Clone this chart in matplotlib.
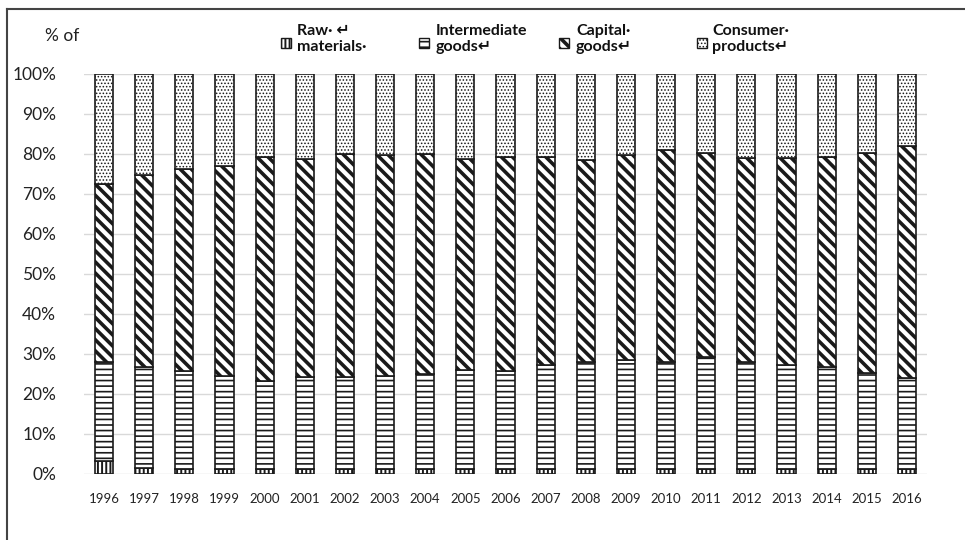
import numpy as np
import matplotlib.pyplot as plt
from matplotlib.patches import Rectangle
from matplotlib.lines import Line2D

plt.rcParams['font.family'] = ['Lato', 'DejaVu Sans']
plt.rcParams['hatch.linewidth'] = 1.2

years = [str(y) for y in range(1996, 2017)]

# cumulative shares (% of total)
raw = [3.2, 1.6, 1.3, 1.3, 1.2, 1.3, 1.3, 1.3, 1.2, 1.2, 1.2, 1.2, 1.2, 1.2, 1.2, 1.2, 1.2, 1.2, 1.2, 1.2, 1.2]
raw_inter = [28.1, 26.7, 25.8, 24.5, 23.2, 24.2, 24.2, 24.5, 25.1, 25.9, 25.8, 27.2, 28.1, 28.5, 28.1, 29.3, 28.1, 27.2, 26.7, 25.3, 24.1]
raw_inter_cap = [72.5, 74.8, 76.2, 77.1, 79.3, 78.7, 79.9, 79.7, 79.9, 78.7, 79.3, 79.3, 78.5, 79.8, 81.0, 80.3, 78.9, 78.9, 79.3, 80.2, 81.9]

raw = np.array(raw)
inter = np.array(raw_inter) - raw
capital = np.array(raw_inter_cap) - np.array(raw_inter)
consumer = 100 - np.array(raw_inter_cap)

series = [raw, inter, capital, consumer]
hatches = ['||||', '---', '\\\\\\', '.....']
hatch_lw = [1.4, 1.2, 2.6, 0.7]
labels = ['Raw\u00b7 \u21b5\nmaterials\u00b7', 'Intermediate\ngoods\u21b5',
          'Capital\u00b7\ngoods\u21b5', 'Consumer\u00b7\nproducts\u21b5']


def set_hlw(p, lw):
    try:
        p.set_hatch_linewidth(lw)
    except AttributeError:
        pass


fig = plt.figure(figsize=(9.65, 5.4), dpi=100)
ax = fig.add_axes([84 / 965, 1 - 474 / 540, (927 - 84) / 965, 400 / 540])

x = np.arange(len(years))
bottom = np.zeros(len(years))
for vals, h, lw in zip(series, hatches, hatch_lw):
    bars = ax.bar(x, vals, 0.45, bottom=bottom, color='white', edgecolor='#1a1a1a',
                  linewidth=1.2, hatch=h, zorder=3)
    for b in bars:
        set_hlw(b, lw)
    bottom = bottom + vals

ax.set_xlim(-0.5, len(years) - 0.5)
ax.set_ylim(0, 100)
ax.set_yticks(np.arange(0, 101, 10))
ax.set_yticklabels([f'{v}%' for v in range(0, 101, 10)], fontsize=12.5, color='#222222')
ax.set_xticks(x)
ax.set_xticklabels(years, fontsize=9.5, color='#222222')
ax.tick_params(length=0, axis='y', pad=20)
ax.tick_params(length=0, axis='x', pad=14)
ax.grid(axis='y', color='#d9d9d9', linewidth=1, zorder=0)
for s in ax.spines.values():
    s.set_visible(False)

fig.text(45 / 965, 1 - 36 / 540, '% of', fontsize=12.5, color='#222222', va='center')

# legend drawn by hand along the top
patch_x = [281, 419, 559, 697]
text_x = [297, 436, 576, 712]
for px, tx, h, lw, lab in zip(patch_x, text_x, hatches, hatch_lw, labels):
    r = Rectangle((px / 965, 1 - 48 / 540), 10 / 965, 10 / 540,
                  transform=fig.transFigure, facecolor='white',
                  edgecolor='#1a1a1a', linewidth=1, hatch=h)
    set_hlw(r, lw)
    fig.add_artist(r)
    fig.text(tx / 965, 1 - 39 / 540, lab, fontsize=11.5, fontweight='bold',
             va='center', ha='left', linespacing=1.15, color='#111111')

# outer frame
fig.add_artist(Line2D([7 / 965, 7 / 965], [0, 1 - 9 / 540], transform=fig.transFigure,
                      color='#444444', linewidth=1.5))
fig.add_artist(Line2D([7 / 965, 1], [1 - 9 / 540, 1 - 9 / 540], transform=fig.transFigure,
                      color='#444444', linewidth=1.5))

fig.savefig('out.png', dpi=100)
